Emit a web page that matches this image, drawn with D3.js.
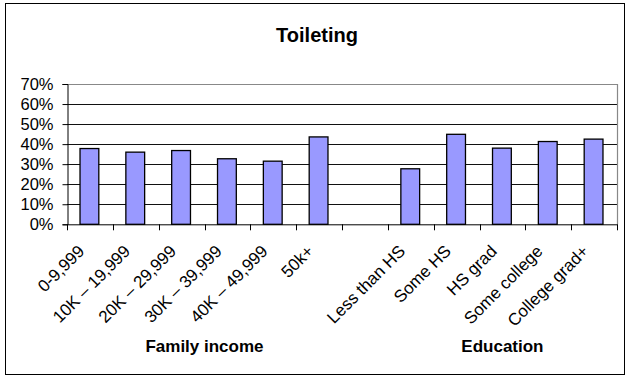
<!DOCTYPE html>
<html>
<head>
<meta charset="utf-8">
<script src="https://cdn.jsdelivr.net/npm/d3@7"></script>
<style>
  html, body { margin: 0; padding: 0; background: #fff; }
  svg { display: block; font-family: "Liberation Sans", Arial, sans-serif; }
</style>
</head>
<body>
<svg id="chart" width="629" height="377"></svg>
<script>
// Share of respondents needing help with toileting, by group
const incomeCategories = ["0-9,999", "10K \u2013 19,999", "20K \u2013 29,999", "30K \u2013 39,999", "40K \u2013 49,999", "50k+"];
const incomeValues = [0.378, 0.360, 0.368, 0.327, 0.315, 0.436];
const educationCategories = ["Less than HS", "Some HS", "HS grad", "Some college", "College grad+"];
const educationValues = [0.277, 0.449, 0.380, 0.413, 0.425];
const groupLabels = ["Family income", "Education"];
const yTicks = [0, 0.1, 0.2, 0.3, 0.4, 0.5, 0.6, 0.7];

// One empty slot separates the two groups on the category axis
const rows = [
  ...incomeCategories.map((c, i) => ({ key: "inc" + i, label: c, value: incomeValues[i] })),
  { key: "gap", label: "", value: null },
  ...educationCategories.map((c, i) => ({ key: "edu" + i, label: c, value: educationValues[i] }))
];

const svg = d3.select("#chart");
const m = { left: 67, right: 617, top: 84, bottom: 224.3 };

// Outer frame
svg.append("rect")
  .attr("x", 5.5).attr("y", 3.5).attr("width", 619).attr("height", 371)
  .attr("fill", "#fff").attr("stroke", "#000").attr("stroke-width", 1);

svg.append("text")
  .attr("x", 317).attr("y", 42)
  .attr("text-anchor", "middle")
  .style("font-size", "20px").style("font-weight", "bold")
  .text("Toileting");

const x = d3.scaleBand().domain(rows.map(d => d.key)).range([m.left, m.right]).paddingInner(0).paddingOuter(0);
const y = d3.scaleLinear().domain([0, 0.7]).range([m.bottom, m.top]);

// Gridlines
svg.append("g").selectAll("line")
  .data(yTicks.filter(t => t > 0 && t < 0.7))
  .join("line")
  .attr("x1", m.left).attr("x2", m.right)
  .attr("y1", d => Math.round(y(d)) + 0.5).attr("y2", d => Math.round(y(d)) + 0.5)
  .attr("stroke", "#111").attr("stroke-width", 1);

// Plot frame (top and right)
svg.append("path")
  .attr("d", `M${m.left},${Math.round(y(0.7)) + 0.5}H${m.right + 0.5}V${m.bottom}`)
  .attr("fill", "none").attr("stroke", "#888").attr("stroke-width", 1.2);

// Bars
const bw = x.bandwidth() * 0.41;
svg.append("g").selectAll("rect")
  .data(rows.filter(d => d.value != null))
  .join("rect")
  .attr("x", d => x(d.key) + x.bandwidth() / 2 - bw / 2 - 0.5)
  .attr("y", d => y(d.value))
  .attr("width", bw)
  .attr("height", d => y(0) - y(d.value))
  .attr("fill", "#9999ff")
  .attr("stroke", "#000").attr("stroke-width", 1.3);

// Y axis
const yAxis = d3.axisLeft(y).tickValues(yTicks).tickFormat(d3.format(".0%")).tickSizeOuter(0).tickSize(5).tickPadding(9);
const gy = svg.append("g").attr("transform", `translate(${m.left + 0.5},0)`).call(yAxis);
gy.attr("font-family", null).attr("font-size", null);
gy.select(".domain").attr("stroke", "#000");
gy.selectAll(".tick line").attr("stroke", "#000");
gy.selectAll("text").style("font-size", "16.5px").attr("fill", "#000");

// X axis: ticks between categories
const bounds = rows.map(d => x(d.key)).concat([m.right]);
const gx = svg.append("g");
gx.append("line")
  .attr("x1", m.left).attr("x2", m.right + 0.5)
  .attr("y1", m.bottom + 0.5).attr("y2", m.bottom + 0.5)
  .attr("stroke", "#000");
gx.selectAll("line.tk").data(bounds).join("line").attr("class", "tk")
  .attr("x1", d => Math.round(d) + 0.5).attr("x2", d => Math.round(d) + 0.5)
  .attr("y1", m.bottom).attr("y2", m.bottom + 6)
  .attr("stroke", "#000");

// Rotated category labels
gx.selectAll("text").data(rows.filter(d => d.label)).join("text")
  .attr("transform", d => `translate(${x(d.key) + x.bandwidth() / 2 - 4.5},${m.bottom + 28}) rotate(-45)`)
  .attr("text-anchor", "end")
  .style("font-size", "17px")
  .text(d => d.label);

// Group titles
const groupCenters = [
  (x("inc0") + x("inc5") + x.bandwidth()) / 2,
  (x("edu0") + x("edu4") + x.bandwidth()) / 2
];
svg.append("g").selectAll("text").data(groupLabels).join("text")
  .attr("x", (d, i) => groupCenters[i])
  .attr("y", 352)
  .attr("text-anchor", "middle")
  .style("font-size", "17px").style("font-weight", "bold")
  .text(d => d);
</script>
</body>
</html>
